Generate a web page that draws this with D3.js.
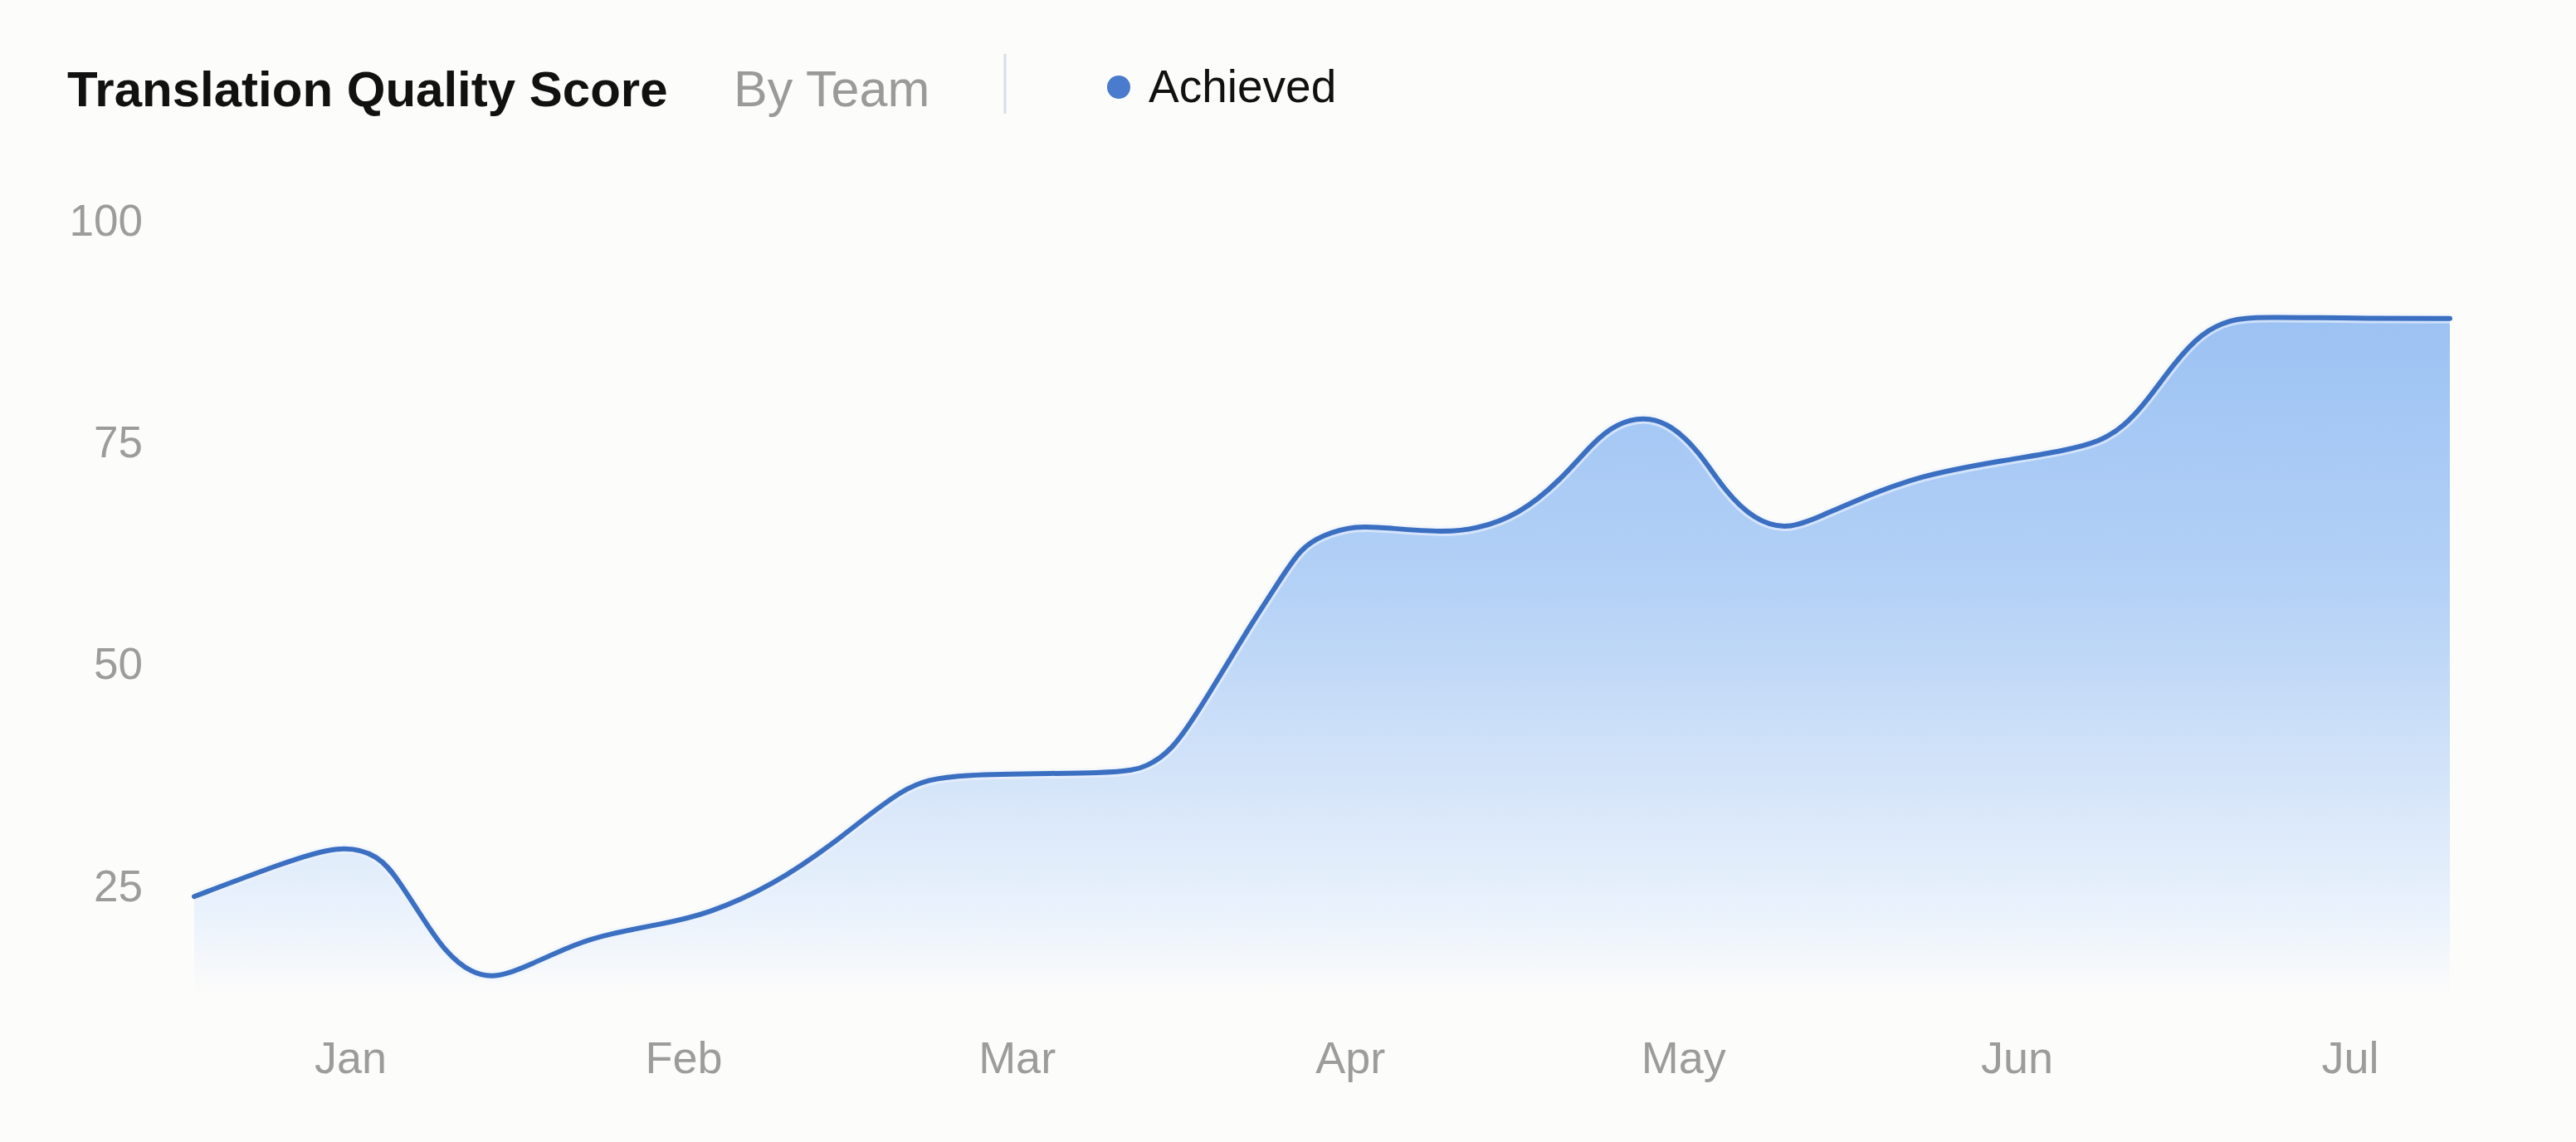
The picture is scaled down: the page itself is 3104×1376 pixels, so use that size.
<!DOCTYPE html>
<html>
<head>
<meta charset="utf-8">
<script src="https://cdn.jsdelivr.net/npm/d3@7"></script>
<style>
  html, body { margin: 0; padding: 0; background: #fcfcfa; }
  svg { display: block; font-family: "Liberation Sans", Arial, Helvetica, sans-serif; }
</style>
</head>
<body>
<div id="chart"></div>
<script>
// month labels sit at integer positions (Jan = 0)
const months = ['Jan', 'Feb', 'Mar', 'Apr', 'May', 'Jun', 'Jul'];
const yTicks = [25, 50, 75, 100];

// readings: position in months, score
const monthPos = [-0.468, -0.207, -0.030, 0.087, 0.147, 0.217, 0.284, 0.364, 0.441, 0.540,
  0.677, 0.777, 0.934, 1.071, 1.267, 1.464, 1.663, 1.800, 2.311, 2.393,
  2.468, 2.535, 2.617, 2.702, 2.784, 2.851, 2.916, 3.016, 3.115, 3.282,
  3.381, 3.506, 3.630, 3.730, 3.797, 3.880, 3.962, 4.046, 4.128, 4.211,
  4.310, 4.427, 4.500, 4.700, 4.975, 5.142, 5.249, 5.324, 5.391, 5.473,
  5.555, 5.640, 5.722, 6.071, 6.300];
const scores = [23.7, 27.4, 29.6, 28.4, 25.4, 21.3, 17.5, 15.0, 14.5, 16.0,
  18.4, 19.5, 20.6, 21.7, 24.9, 30.0, 36.2, 37.6, 37.5, 38.3,
  40.3, 44.0, 49.0, 54.3, 59.0, 62.9, 64.4, 65.5, 65.2, 64.7,
  65.1, 66.7, 70.5, 74.9, 76.9, 77.8, 76.9, 73.9, 69.2, 66.2,
  64.9, 66.8, 68.0, 71.1, 72.9, 73.9, 74.9, 76.7, 79.5, 83.8,
  87.2, 88.7, 89.0, 88.8, 88.8];

const data = monthPos.map((m, i) => ({ m: m, v: scores[i] }));

const w = 3104;
const h = 1376;

const xScale = d3.scaleLinear().domain([d3.min(monthPos), d3.max(monthPos)]).range([234, 2952]);
const yScale = d3.scaleLinear().domain([12.5, 100]).range([1200, 264]);

const svg = d3.select('#chart').append('svg').attr('width', w).attr('height', h);

svg.append('rect').attr('width', w).attr('height', h).attr('fill', '#fcfcfa');

// fill gradient
const grad = svg.append('defs').append('linearGradient')
  .attr('id', 'fillGrad')
  .attr('gradientUnits', 'userSpaceOnUse')
  .attr('x1', 0).attr('x2', 0)
  .attr('y1', yScale(89)).attr('y2', yScale(12.5));
[[0, '#9cc2f3'], [0.4, '#b4d1f6'], [0.69, '#d5e5f9'], [0.88, '#eaf2fc'], [1, '#fcfcfa']].forEach(s => {
  grad.append('stop').attr('offset', s[0]).attr('stop-color', s[1]);
});

// header
svg.append('text').attr('x', 81).attr('y', 128)
  .attr('font-size', 60).attr('font-weight', 700).attr('fill', '#111')
  .text('Translation Quality Score');
svg.append('text').attr('x', 884).attr('y', 128)
  .attr('font-size', 61).attr('fill', '#9a9a9a')
  .text('By Team');
svg.append('line').attr('x1', 1211).attr('x2', 1211).attr('y1', 65).attr('y2', 137)
  .attr('stroke', '#d6dee9').attr('stroke-width', 3);
svg.append('circle').attr('cx', 1348).attr('cy', 105).attr('r', 14).attr('fill', '#4a7bcc');
svg.append('text').attr('x', 1384).attr('y', 123)
  .attr('font-size', 55).attr('fill', '#111')
  .text('Achieved');

// area + line
const area = d3.area()
  .x(d => xScale(d.m))
  .y0(yScale(12.5))
  .y1(d => yScale(d.v))
  .curve(d3.curveBasis);

const line = d3.line()
  .x(d => xScale(d.m))
  .y(d => yScale(d.v))
  .curve(d3.curveBasis);

svg.append('path').datum(data).attr('d', area).attr('fill', 'url(#fillGrad)');
// soft halo under the line
svg.append('path').datum(data).attr('d', line)
  .attr('fill', 'none').attr('stroke', '#eef4fd').attr('stroke-width', 12).attr('stroke-opacity', 0.6);
svg.append('path').datum(data).attr('d', line)
  .attr('fill', 'none').attr('stroke', '#3b6fc2').attr('stroke-width', 6)
  .attr('stroke-linejoin', 'round').attr('stroke-linecap', 'round');

// axes
const yAxis = d3.axisLeft(yScale).tickValues(yTicks).tickSize(0).tickPadding(0);
const gy = svg.append('g').attr('transform', 'translate(172, 0)').call(yAxis);
gy.select('.domain').remove();
gy.selectAll('text').attr('font-size', 53).attr('fill', '#9c9c9c')
  .attr('font-family', '"Liberation Sans", Arial, sans-serif').attr('dy', '0.36em');

const xAxis = d3.axisBottom(xScale).tickValues(d3.range(months.length))
  .tickFormat(i => months[i]).tickSize(0).tickPadding(0);
const gx = svg.append('g').attr('transform', 'translate(0, 1293)').call(xAxis);
gx.select('.domain').remove();
gx.selectAll('text').attr('font-size', 54).attr('fill', '#9c9c9c')
  .attr('font-family', '"Liberation Sans", Arial, sans-serif').attr('dy', 0);
</script>
</body>
</html>
